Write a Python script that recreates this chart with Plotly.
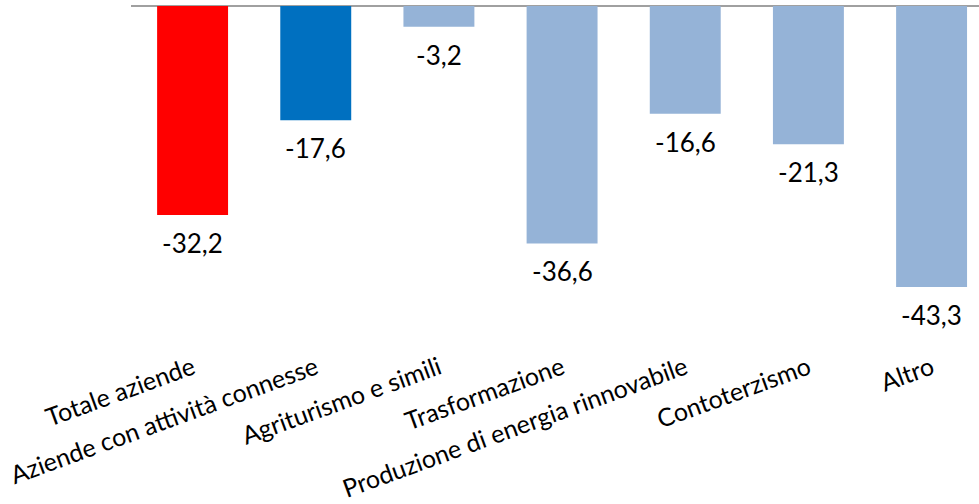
import plotly.graph_objects as go

categories = ["Totale aziende", "Aziende con attività connesse", "Agriturismo e simili",
              "Trasformazione", "Produzione di energia rinnovabile", "Contoterzismo", "Altro"]
values = [-32.2, -17.6, -3.2, -36.6, -16.6, -21.3, -43.3]
colors = ["#FF0000", "#0070C0", "#95B3D7", "#95B3D7", "#95B3D7", "#95B3D7", "#95B3D7"]

FONT = "Lato"

fig = go.Figure()
fig.add_trace(go.Bar(x=categories, y=values, marker=dict(color=colors, line=dict(width=0)),
                     width=0.576, hoverinfo="skip"))

for c, v in zip(categories, values):
    fig.add_annotation(x=c, y=v, xref="x", yref="y", text=f"{v:.1f}".replace(".", ","),
                       showarrow=False, yanchor="top", yshift=-10,
                       font=dict(family=FONT, size=26, color="#000000"))

fig.update_layout(
    width=979, height=504,
    margin=dict(l=131, r=0, t=4, b=163, autoexpand=False),
    plot_bgcolor="white", paper_bgcolor="white",
    showlegend=False,
    xaxis=dict(range=[-0.5, 6.385], showline=False, showgrid=False, ticks="",
               tickangle=-20, tickfont=dict(family=FONT, size=25, color="#000000"),
               ticklabelstandoff=7, fixedrange=True, automargin=False),
    yaxis=dict(range=[-51.63, 0.3], showticklabels=False, showgrid=False, showline=False,
               zeroline=True, zerolinecolor="#A0A0A0", zerolinewidth=2, fixedrange=True,
               automargin=False),
)

fig.write_html("out.html", config={"displayModeBar": False},
               post_script="document.body.style.margin='0';document.body.style.overflow='hidden';")
